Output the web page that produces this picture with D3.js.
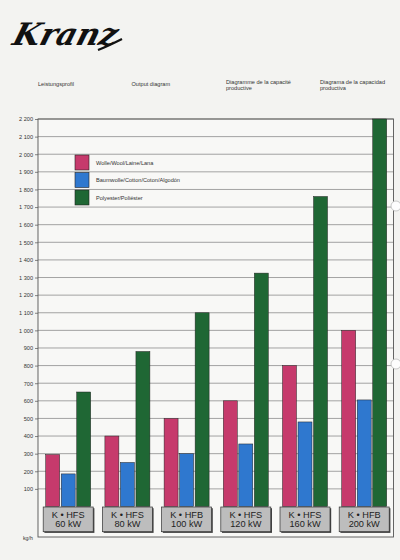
<!DOCTYPE html>
<html>
<head>
<meta charset="utf-8">
<script src="https://cdn.jsdelivr.net/npm/d3@7"></script>
<style>
  html, body { margin: 0; padding: 0; background: #f3f3f1; }
  #container { width: 400px; height: 560px; }
  text { font-family: "Liberation Sans", Arial, sans-serif; }
</style>
</head>
<body>
<div id="container"></div>
<script>
// chart data
const models = ["K • HFS", "K • HFS", "K • HFB", "K • HFS", "K • HFS", "K • HFB"];
const powers = ["60 kW", "80 kW", "100 kW", "120 kW", "160 kW", "200 kW"];
const seriesNames = ["Wolle/Wool/Laine/Lana", "Baumwolle/Cotton/Coton/Algodón", "Polyester/Poliéster"];
const wool = [295, 400, 500, 600, 800, 1000];
const cotton = [185, 250, 300, 355, 480, 605];
const polyester = [650, 880, 1100, 1325, 1760, 2200];
const yTicks = [100, 200, 300, 400, 500, 600, 700, 800, 900, 1000, 1100, 1200,
  1300, 1400, 1500, 1600, 1700, 1800, 1900, 2000, 2100, 2200];
const headers = [
  ["Leistungsprofil"],
  ["Output diagram"],
  ["Diagramme de la capacité", "productive"],
  ["Diagrama de la capacidad", "productiva"]
];
const unitLabel = "kg/h";

const colors = ["#c63a6c", "#2f78cf", "#1f6734"];
const seriesValues = [wool, cotton, polyester];

const width = 400, height = 560;
const frame = { left: 38, top: 119, right: 393.5, bottom: 537 };

const svg = d3.select("#container")
  .append("svg")
  .attr("width", width)
  .attr("height", height);

// paper
svg.append("rect").attr("width", width).attr("height", height).attr("fill", "#f3f3f1");
svg.append("rect")
  .attr("x", frame.left).attr("y", frame.top)
  .attr("width", frame.right - frame.left).attr("height", frame.bottom - frame.top)
  .attr("fill", "#f8f8f6");

// logo
svg.append("text")
  .attr("x", 12).attr("y", 45)
  .attr("transform", "skewX(-16) translate(12,0)")
  .style("font-family", "DejaVu Serif")
  .style("font-style", "italic")
  .style("font-weight", "bold")
  .style("font-size", "31px")
  .attr("fill", "#111")
  .text("Kranz");
svg.append("path")
  .attr("d", "M98,50 C106,47 114,43 122,39")
  .attr("fill", "none").attr("stroke", "#111").attr("stroke-width", 2.2);

// column headers
const headerX = [38, 131.5, 226, 320];
headers.forEach((lines, i) => {
  const t = svg.append("text")
    .attr("x", headerX[i])
    .attr("y", lines.length > 1 ? 83.5 : 86)
    .style("font-size", "5.6px")
    .attr("fill", "#333");
  lines.forEach((l, j) => {
    t.append("tspan").attr("x", headerX[i]).attr("dy", j === 0 ? 0 : 6.6).text(l);
  });
});

// scales
const y = d3.scaleLinear().domain([0, 2200]).range([506.5, frame.top]);
const x0 = d3.scaleBand()
  .domain(d3.range(powers.length))
  .range([45.7, 386.7])
  .paddingInner(0.24)
  .paddingOuter(0);
const x1 = d3.scaleBand()
  .domain(d3.range(seriesNames.length))
  .range([0, x0.bandwidth()])
  .paddingInner(0.1)
  .paddingOuter(0);

// grid
svg.append("g")
  .selectAll("line")
  .data(yTicks)
  .enter().append("line")
  .attr("x1", frame.left).attr("x2", frame.right)
  .attr("y1", d => y(d)).attr("y2", d => y(d))
  .attr("stroke", "#8d8d8d")
  .attr("stroke-width", 0.8);

// y axis labels
const fmt = d3.formatLocale({ thousands: " ", grouping: [3], decimal: ".", currency: ["", ""] }).format(",");
const axis = svg.append("g")
  .attr("transform", `translate(${frame.left},0)`)
  .call(d3.axisLeft(y).tickValues(yTicks).tickSize(3).tickPadding(2).tickFormat(fmt));
axis.select(".domain").remove();
axis.selectAll(".tick line").attr("stroke", "#666").attr("stroke-width", 0.8);
axis.selectAll(".tick text")
  .style("font-family", "Liberation Sans, Arial, sans-serif")
  .style("font-size", "5.6px")
  .attr("fill", "#333");

// frame
svg.append("rect")
  .attr("x", frame.left).attr("y", frame.top)
  .attr("width", frame.right - frame.left).attr("height", frame.bottom - frame.top)
  .attr("fill", "none").attr("stroke", "#555").attr("stroke-width", 0.9);

svg.append("text")
  .attr("x", 23).attr("y", 539.5)
  .style("font-size", "5.2px")
  .attr("fill", "#333")
  .text(unitLabel);

// legend
const legend = svg.append("g").attr("transform", "translate(75,155)");
const lg = legend.selectAll("g")
  .data(seriesNames)
  .enter().append("g")
  .attr("transform", (d, i) => `translate(0,${i * 17.5})`);
lg.append("rect")
  .attr("width", 14).attr("height", 15)
  .attr("fill", (d, i) => colors[i])
  .attr("stroke", "#222").attr("stroke-width", 0.6);
lg.append("text")
  .attr("x", 21).attr("y", 9.5)
  .style("font-size", "5.6px")
  .attr("fill", "#333")
  .text(d => d);

// bars
const groups = svg.append("g")
  .selectAll("g")
  .data(powers.map((p, i) => i))
  .enter().append("g")
  .attr("transform", i => `translate(${x0(i)},0)`);

groups.selectAll("rect")
  .data(i => seriesValues.map((vals, s) => ({ s, v: vals[i] })))
  .enter().append("rect")
  .attr("x", d => x1(d.s))
  .attr("y", d => y(d.v))
  .attr("width", x1.bandwidth())
  .attr("height", d => y(0) - y(d.v))
  .attr("fill", d => colors[d.s])
  .attr("stroke", "#222")
  .attr("stroke-width", 0.5);

// model label boxes
const boxW = 50, boxH = 24.7, boxTop = 507;
const labels = groups.append("g")
  .attr("transform", `translate(${x1(1) + x1.bandwidth() / 2},0)`);
labels.append("rect")
  .attr("x", -boxW / 2 + 1.2).attr("y", boxTop + 1.2)
  .attr("width", boxW).attr("height", boxH)
  .attr("fill", "#444");
labels.append("rect")
  .attr("x", -boxW / 2).attr("y", boxTop)
  .attr("width", boxW).attr("height", boxH)
  .attr("fill", "#bdbdbd")
  .attr("stroke", "#333").attr("stroke-width", 0.7);
const lt = labels.append("text")
  .attr("text-anchor", "middle")
  .attr("y", 518.4)
  .style("font-size", "9.2px")
  .attr("fill", "#222");
lt.append("tspan").attr("x", 0).text(i => models[i]);
lt.append("tspan").attr("x", 0).attr("dy", 9).text(i => powers[i]);

// punch holes at right edge
[206, 364].forEach(cy => {
  svg.append("circle")
    .attr("cx", 396).attr("cy", cy).attr("r", 5)
    .attr("fill", "#fdfdfd").attr("stroke", "#bbb").attr("stroke-width", 0.8);
});
</script>
</body>
</html>
